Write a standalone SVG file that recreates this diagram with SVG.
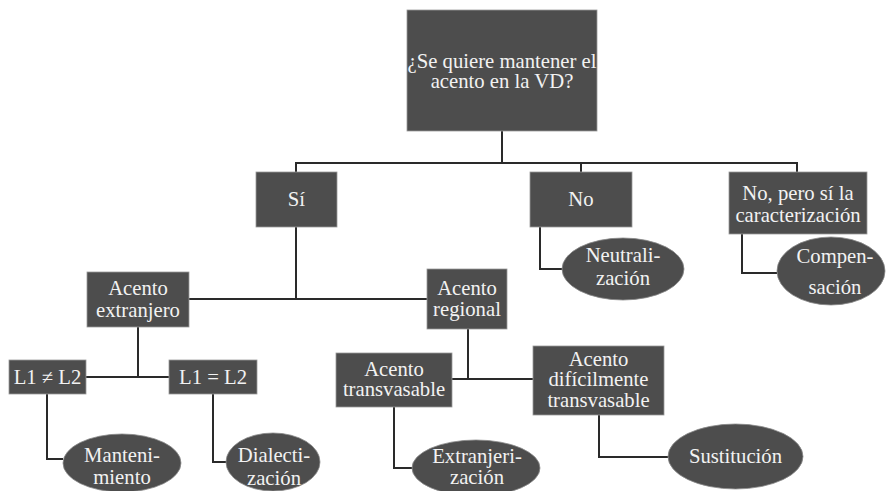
<svg xmlns="http://www.w3.org/2000/svg" width="890" height="491" viewBox="0 0 890 491">
<style>
.b{fill:#4d4d4d;stroke:#9a9a9a;stroke-width:0.8}
.e{fill:#4d4d4d;stroke:#8a8a8a;stroke-width:0.8}
.t{font-family:'Liberation Serif','Times New Roman',serif;font-size:20.7px;fill:#f2f2f2;text-anchor:middle}
.c{fill:none;stroke:#2a2a2a;stroke-width:2}
</style>
<rect width="890" height="491" fill="#ffffff"/>
<g id="connectors">
<path class="c" d="M502,131 V163 M296,172 V163 H797 V172 M581,163 V172"/>
<path class="c" d="M540,227 V269 H562"/>
<path class="c" d="M742,234 V273 H777"/>
<path class="c" d="M296,227 V299 M189,299 H427"/>
<path class="c" d="M138,327 V377 M86,377 H169"/>
<path class="c" d="M47,394 V459 H63"/>
<path class="c" d="M213,394 V462 H227"/>
<path class="c" d="M468,329 V379 M452,379 H533"/>
<path class="c" d="M394,407 V468 H412"/>
<path class="c" d="M599,415 V457 H668"/>
</g>
<g id="n-root"><rect class="b" x="407" y="10" width="190" height="121"/><text class="t" x="502" y="68">¿Se quiere mantener el</text><text class="t" x="502" y="88">acento en la VD?</text></g>
<g id="n-si"><rect class="b" x="256" y="172" width="81" height="55"/><text class="t" x="296.5" y="206">Sí</text></g>
<g id="n-no"><rect class="b" x="530" y="172" width="102" height="55"/><text class="t" x="581" y="206">No</text></g>
<g id="n-nopero"><rect class="b" x="729" y="172" width="138" height="62"/><text class="t" x="798" y="200">No, pero sí la</text><text class="t" x="798" y="222">caracterización</text></g>
<g id="n-neutral"><ellipse class="e" cx="623" cy="269" rx="61" ry="31"/><text class="t" x="623" y="262">Neutrali-</text><text class="t" x="623" y="285">zación</text></g>
<g id="n-compen"><ellipse class="e" cx="831" cy="271" rx="54" ry="34"/><text class="t" x="835" y="263">Compen-</text><text class="t" x="835" y="294">sación</text></g>
<g id="n-extranjero"><rect class="b" x="87" y="272" width="102" height="55"/><text class="t" x="138" y="295">Acento</text><text class="t" x="138" y="317">extranjero</text></g>
<g id="n-regional"><rect class="b" x="427" y="269" width="80" height="60"/><text class="t" x="467" y="295">Acento</text><text class="t" x="467" y="316">regional</text></g>
<g id="n-l1ne"><rect class="b" x="9" y="360" width="77" height="34"/><text class="t" x="47.5" y="384">L1 ≠ L2</text></g>
<g id="n-l1eq"><rect class="b" x="169" y="360" width="88" height="34"/><text class="t" x="213" y="384">L1 = L2</text></g>
<g id="n-manten"><ellipse class="e" cx="122" cy="463" rx="59" ry="29"/><text class="t" x="122" y="462">Manteni-</text><text class="t" x="122" y="484">miento</text></g>
<g id="n-dialect"><ellipse class="e" cx="273" cy="462" rx="47" ry="29"/><text class="t" x="274" y="462">Dialecti-</text><text class="t" x="274" y="485">zación</text></g>
<g id="n-transv"><rect class="b" x="336" y="353" width="116" height="54"/><text class="t" x="394" y="376">Acento</text><text class="t" x="394" y="396">transvasable</text></g>
<g id="n-dific"><rect class="b" x="533" y="346" width="131" height="69"/><text class="t" x="598.5" y="366">Acento</text><text class="t" x="598.5" y="386">difícilmente</text><text class="t" x="598.5" y="407">transvasable</text></g>
<g id="n-extranjeriz"><ellipse class="e" cx="476" cy="468" rx="64" ry="28"/><text class="t" x="477" y="463">Extranjeri-</text><text class="t" x="477" y="484">zación</text></g>
<g id="n-sustit"><ellipse class="e" cx="735.5" cy="456.5" rx="67.5" ry="32.5"/><text class="t" x="735.5" y="463">Sustitución</text></g>
</svg>
